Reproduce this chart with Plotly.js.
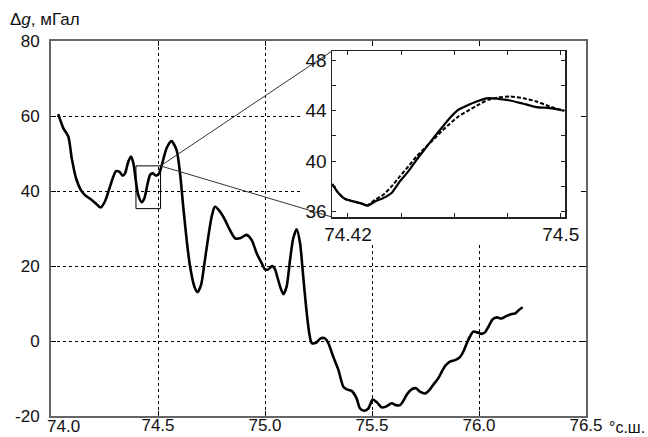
<!DOCTYPE html>
<html><head><meta charset="utf-8">
<script src="https://cdn.plot.ly/plotly-3.0.1.min.js"></script>
<style>html,body{margin:0;padding:0;background:#fff}#chart{width:648px;height:437px}</style>
</head><body><div id="chart"></div>
<script>
const latMain = [74.034,74.058,74.081,74.097,74.117,74.139,74.159,74.19,74.213,74.232,74.252,74.273,74.291,74.304,74.32,74.335,74.346,74.361,74.374,74.385,74.397,74.408,74.424,74.436,74.45,74.463,74.475,74.491,74.505,74.52,74.54,74.563,74.587,74.603,74.618,74.634,74.65,74.67,74.684,74.701,74.717,74.735,74.751,74.766,74.79,74.813,74.836,74.86,74.883,74.914,74.938,74.961,74.985,75.0,75.016,75.033,75.047,75.057,75.073,75.086,75.101,75.117,75.132,75.148,75.164,75.176,75.192,75.207,75.218,75.238,75.26,75.28,75.296,75.319,75.343,75.366,75.382,75.405,75.428,75.444,75.463,75.483,75.503,75.525,75.545,75.565,75.592,75.612,75.631,75.646,75.665,75.685,75.706,75.724,75.748,75.768,75.786,75.81,75.826,75.841,75.864,75.888,75.911,75.927,75.943,75.958,75.973,75.992,76.012,76.028,76.044,76.064,76.083,76.106,76.129,76.153,76.171,76.187,76.204];
const gMain = [60.5,56.7,54.5,48.7,43.4,40.3,38.9,37.6,36.5,35.6,37.2,40.7,43.8,45.3,45.1,44.1,44.7,47.8,49.2,47.4,42.5,38.9,37.0,38.0,41.6,44.3,44.7,44.1,44.7,47.4,51.4,53.3,50.9,44.7,35.8,26.9,19.8,14.5,13.0,14.9,20.7,27.8,33.2,35.8,34.5,32.3,29.6,27.4,27.4,28.3,26.9,23.4,20.7,19.1,19.1,20.0,19.1,17.2,14.1,12.5,14.5,21.6,27.4,29.8,26.0,18.9,9.1,2.0,-0.5,-0.5,0.7,0.7,-0.6,-4.2,-7.7,-12.2,-12.9,-13.3,-15.3,-18.0,-18.6,-18.0,-15.6,-16.5,-17.7,-17.5,-16.6,-17.1,-17.1,-16.0,-14.1,-12.9,-12.6,-13.5,-14.0,-13.1,-11.7,-9.9,-8.2,-6.7,-5.5,-5.1,-4.3,-2.8,-0.6,1.2,2.5,2.3,1.9,2.3,3.8,5.8,6.3,6.0,6.7,7.2,7.4,8.3,9.0];

const latInset = [74.4141,74.4164,74.4189,74.422,74.4252,74.4274,74.4302,74.4333,74.4364,74.4395,74.4427,74.4458,74.4489,74.4521,74.4552,74.4583,74.4615,74.4646,74.4684,74.4727,74.4765,74.4809,74.4859,74.4909,74.4959,74.5013];
const gInsetSolid = [38.18,37.47,37.0,36.8,36.62,36.46,36.8,37.07,37.47,38.39,39.18,40.11,40.96,41.83,42.63,43.42,44.08,44.4,44.74,45.0,44.95,44.82,44.56,44.29,44.21,44.0];
const gInsetDashed = [38.18,37.47,37.0,36.8,36.62,36.5,36.94,37.33,37.99,38.79,39.58,40.37,41.04,41.7,42.36,42.97,43.55,43.94,44.4,44.87,45.06,45.13,45.0,44.74,44.34,44.0];

const xTickVals = [74.0,74.5,75.0,75.5,76.0,76.5];
const xTickLabels = ['74.0','74.5','75.0','75.5','76.0','76.5'];
const yTickVals = [-20,0,20,40,60,80];
const yTickLabels = ['-20','0','20','40','60','80'];
const insetXTickVals = [74.42,74.44,74.46,74.48,74.50];
const insetXTickLabels = ['74.42','','','','74.5'];
const insetYTickVals = [36,38,40,42,44,46,48];
const insetYTickLabels = ['36','','40','','44','','48'];

const xRange = [74.0,76.5], yRange = [-20,80];
const insetXRange = [74.414,74.5016], insetYRange = [35.56,48.75];
// plot area: x 51..586, y 41..416 px
const insetDomX = [(332-51)/535, (565-51)/535], insetDomY = [(416-217)/375, (416-51)/375];
const box = {x0:74.397, x1:74.512, y0:35.3, y1:46.7};

const mx = p => xRange[0] + p*(xRange[1]-xRange[0]);
const my = p => yRange[0] + p*(yRange[1]-yRange[0]);

const font = 'Arial, "Liberation Sans", sans-serif';

// first x label is drawn shifted right (as in the original) to clear the "-20" label
const xTickTextShown = xTickLabels.map((t,i) => i === 0 ? '' : t);

const traces = [
  {x: latMain, y: gMain, type:'scatter', mode:'lines', line:{color:'#000', width:2.6, shape:'spline', smoothing:0.7}, xaxis:'x', yaxis:'y', hoverinfo:'skip'},
  {x: latInset, y: gInsetDashed, type:'scatter', mode:'lines', line:{color:'#000', width:2, dash:'4px,2px', shape:'spline', smoothing:0.6}, xaxis:'x2', yaxis:'y2', hoverinfo:'skip'},
  {x: latInset, y: gInsetSolid, type:'scatter', mode:'lines', line:{color:'#000', width:2.2, shape:'spline', smoothing:0.6}, xaxis:'x2', yaxis:'y2', hoverinfo:'skip'}
];

const layout = {
  width:648, height:437,
  margin:{l:51, r:62, t:41, b:21},
  paper_bgcolor:'#fff', plot_bgcolor:'#fff',
  showlegend:false,
  font:{family:font, color:'#111'},
  xaxis:{range:xRange, domain:[0,1], tickvals:xTickVals, ticktext:xTickTextShown,
    showgrid:true, gridcolor:'#000', gridwidth:1, griddash:'3px,3px',
    showline:true, linecolor:'#666', linewidth:2, mirror:'ticks',
    ticks:'inside', ticklen:5, tickcolor:'#000', tickwidth:1, ticklabelstandoff:-7,
    tickfont:{size:17, family:font, color:'#111'}, zeroline:false, fixedrange:true},
  yaxis:{range:yRange, domain:[0,1], tickvals:yTickVals, ticktext:yTickLabels,
    showgrid:true, gridcolor:'#000', gridwidth:1, griddash:'3px,3px',
    showline:true, linecolor:'#666', linewidth:2, mirror:'ticks',
    ticks:'inside', ticklen:5, tickcolor:'#000', tickwidth:1, ticklabelstandoff:6,
    tickfont:{size:17, family:font, color:'#111'}, zeroline:false, fixedrange:true},
  xaxis2:{range:insetXRange, domain:insetDomX, anchor:'y2', tickvals:insetXTickVals, ticktext:insetXTickLabels,
    showgrid:false, showline:true, linecolor:'#222', linewidth:1.5, mirror:'ticks',
    ticks:'inside', ticklen:4, tickcolor:'#222', tickwidth:1,
    tickfont:{size:19, family:font, color:'#111'}, zeroline:false, fixedrange:true},
  yaxis2:{range:insetYRange, domain:insetDomY, anchor:'x2', tickvals:insetYTickVals, ticktext:insetYTickLabels,
    showgrid:false, showline:true, linecolor:'#222', linewidth:1.5, mirror:'ticks',
    ticks:'inside', ticklen:4, tickcolor:'#222', tickwidth:1, ticklabelstandoff:0,
    tickfont:{size:19, family:font, color:'#111'}, zeroline:false, fixedrange:true},
  shapes:[
    {type:'rect', xref:'x', yref:'y', x0:mx((303-51)/535), x1:xRange[1], y0:my((416-244)/375), y1:yRange[1],
      fillcolor:'#fff', line:{width:0}, layer:'between'},
    {type:'rect', xref:'x', yref:'y', x0:box.x0, x1:box.x1, y0:box.y0, y1:box.y1,
      line:{color:'#000', width:1}, fillcolor:'rgba(0,0,0,0)', layer:'above'},
    {type:'line', xref:'x', yref:'y', x0:box.x1, y0:box.y1, x1:mx(insetDomX[0]), y1:my(insetDomY[1]),
      line:{color:'#333', width:1}, layer:'above'},
    {type:'line', xref:'x', yref:'y', x0:box.x1, y0:box.y1, x1:mx(insetDomX[0]), y1:my(insetDomY[0]),
      line:{color:'#333', width:1}, layer:'above'}
  ],
  annotations:[
    {xref:'paper', yref:'paper', x:(8-51)/535, y:1+(41-20)/375, xanchor:'left', yanchor:'middle', showarrow:false,
      text:'Δ<i>g</i>, мГал', font:{size:17, family:font, color:'#111'}},
    {xref:'x', yref:'paper', x:xTickVals[0], xshift:-6, y:-(426-416)/375, xanchor:'left', yanchor:'middle', showarrow:false,
      text:xTickLabels[0], font:{size:17, family:font, color:'#111'}},
    {xref:'paper', yref:'paper', x:(607-51)/535, y:-(427-416)/375, xanchor:'left', yanchor:'middle', showarrow:false,
      text:'°с.ш.', font:{size:16, family:font, color:'#111'}}
  ]
};

Plotly.newPlot('chart', traces, layout, {staticPlot:true, displayModeBar:false});
</script>
</body></html>
